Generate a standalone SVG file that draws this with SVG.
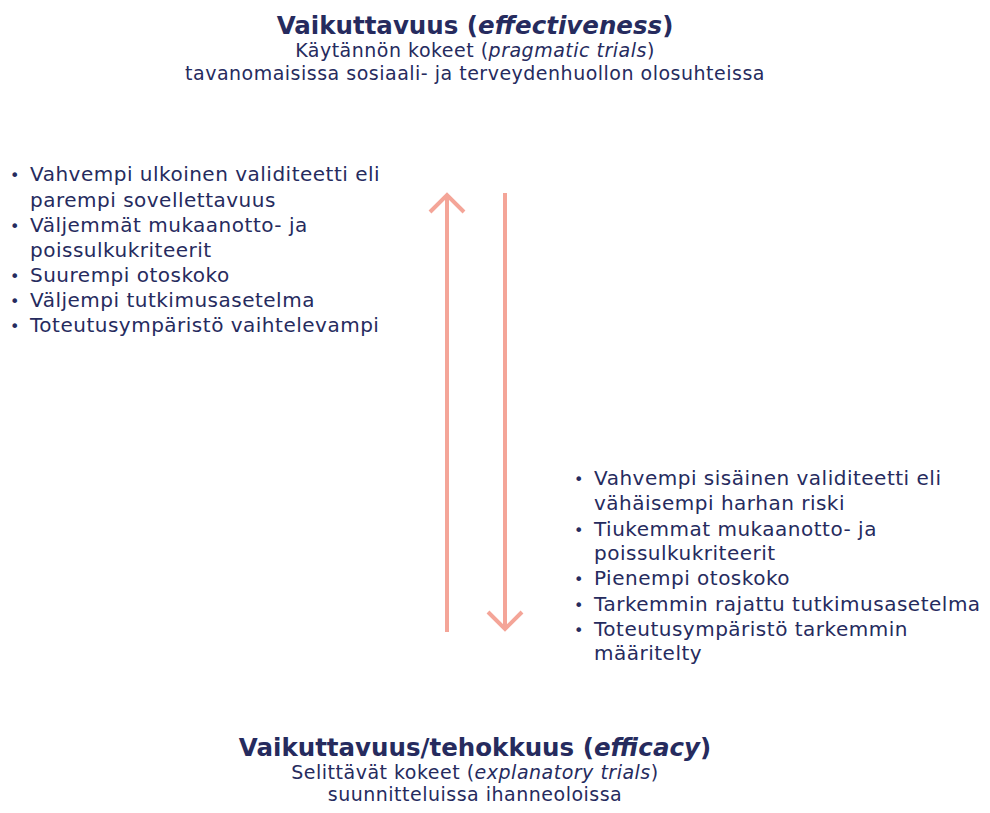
<svg xmlns="http://www.w3.org/2000/svg" width="990" height="813" viewBox="0 0 990 813">
<style>
text{font-family:"DejaVu Sans","Open Sans",sans-serif;fill:#262b5e}
.t{font-size:24.5px;font-weight:bold;text-anchor:middle}
.s{font-size:19px;letter-spacing:0.5px;text-anchor:middle}
.b{font-size:20px;letter-spacing:0.5px}
.d{font-size:16px}
.ar{stroke:#f4a598;stroke-width:4;fill:none;stroke-linecap:butt}
</style>
<rect width="990" height="813" fill="#ffffff"/>
<g id="top-title">
<text class="t" x="475" y="34">Vaikuttavuus (<tspan font-style="italic">effectiveness</tspan>)</text>
<text class="s" x="475" y="57">Käytännön kokeet (<tspan font-style="italic">pragmatic trials</tspan>)</text>
<text class="s" x="475" y="80">tavanomaisissa sosiaali- ja terveydenhuollon olosuhteissa</text>
</g>
<g id="left-list">
<text class="d" x="10" y="181">•</text><text class="b" x="30" y="181">Vahvempi ulkoinen validiteetti eli</text>
<text class="b" x="30" y="207">parempi sovellettavuus</text>
<text class="d" x="10" y="232">•</text><text class="b" x="30" y="232">Väljemmät mukaanotto- ja</text>
<text class="b" x="30" y="257">poissulkukriteerit</text>
<text class="d" x="10" y="282">•</text><text class="b" x="30" y="282">Suurempi otoskoko</text>
<text class="d" x="10" y="307">•</text><text class="b" x="30" y="307">Väljempi tutkimusasetelma</text>
<text class="d" x="10" y="332">•</text><text class="b" x="30" y="332">Toteutusympäristö vaihtelevampi</text>
</g>
<g id="right-list">
<text class="d" x="574" y="485">•</text><text class="b" x="594" y="485">Vahvempi sisäinen validiteetti eli</text>
<text class="b" x="594" y="510">vähäisempi harhan riski</text>
<text class="d" x="574" y="536">•</text><text class="b" x="594" y="536">Tiukemmat mukaanotto- ja</text>
<text class="b" x="594" y="560">poissulkukriteerit</text>
<text class="d" x="574" y="585">•</text><text class="b" x="594" y="585">Pienempi otoskoko</text>
<text class="d" x="574" y="611">•</text><text class="b" x="594" y="611">Tarkemmin rajattu tutkimusasetelma</text>
<text class="d" x="574" y="636">•</text><text class="b" x="594" y="636">Toteutusympäristö tarkemmin</text>
<text class="b" x="594" y="660">määritelty</text>
</g>
<g id="bottom-title">
<text class="t" x="475" y="756">Vaikuttavuus/tehokkuus (<tspan font-style="italic">efficacy</tspan>)</text>
<text class="s" x="475" y="779">Selittävät kokeet (<tspan font-style="italic">explanatory trials</tspan>)</text>
<text class="s" x="475" y="801">suunnitteluissa ihanneoloissa</text>
</g>
<g id="connectors">
<path class="ar" d="M447 632V195M430 212L447 195L464 212"/>
<path class="ar" d="M505 193V629M488 612L505 629L522 612"/>
</g>
</svg>
